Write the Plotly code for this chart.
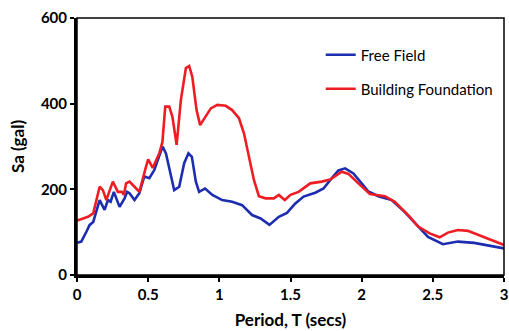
import plotly.graph_objects as go

# Free Field
t_ff = [0, 0.03, 0.066, 0.089, 0.114, 0.136, 0.159, 0.194, 0.217, 0.236, 0.259, 0.299, 0.334, 0.352,
        0.369, 0.404, 0.438, 0.473, 0.508, 0.543, 0.601, 0.625, 0.66, 0.683, 0.718, 0.753, 0.783, 0.807,
        0.835, 0.858, 0.9, 0.951, 1.02, 1.09, 1.16, 1.23, 1.29, 1.352, 1.418, 1.475, 1.534, 1.592, 1.674,
        1.732, 1.79, 1.837, 1.884, 1.942, 2.0, 2.047, 2.117, 2.21, 2.30, 2.397, 2.466, 2.571, 2.676,
        2.79, 2.91, 3.0]
sa_ff = [75, 78, 101, 117, 124, 152, 175, 152, 175, 171, 194, 159, 179, 194,
         191, 175, 191, 230, 226, 245, 300, 284, 230, 198, 206, 261, 284, 276,
         218, 194, 202, 187, 175, 171, 163, 140, 132, 117, 136, 145, 167, 183, 192,
         202, 226, 244, 249, 237, 214, 195, 184, 175, 148, 113, 89, 72, 78,
         75, 68, 62]

# Building Foundation
t_bf = [0, 0.077, 0.114, 0.159, 0.182, 0.206, 0.252, 0.287, 0.315, 0.329, 0.345, 0.369, 0.404, 0.438,
        0.485, 0.5, 0.532, 0.578, 0.60, 0.62, 0.648, 0.67, 0.70, 0.73, 0.765, 0.788, 0.81, 0.84, 0.865,
        0.893, 0.94, 0.986, 1.045, 1.09, 1.138, 1.173, 1.208, 1.243, 1.278, 1.325, 1.383, 1.418, 1.46,
        1.5, 1.557, 1.639, 1.72, 1.779, 1.86, 1.907, 1.977, 2.058, 2.163, 2.233, 2.327, 2.397, 2.478,
        2.548, 2.606, 2.676, 2.746, 2.84, 2.93, 3.0]
sa_bf = [127, 136, 144, 206, 198, 175, 218, 194, 194, 187, 214, 218, 206, 194,
         253, 270, 250, 284, 310, 393, 393, 370, 304, 409, 483, 488, 463, 385, 350,
         365, 389, 397, 395, 385, 366, 331, 280, 222, 184, 179, 179, 187, 175,
         187, 194, 214, 218, 223, 241, 236, 214, 189, 184, 171, 140, 113, 97,
         88, 99, 105, 103, 91, 78, 70]

x_ticks = [0, 0.5, 1, 1.5, 2, 2.5, 3]
x_ticklabels = ["0", "0.5", "1", "1.5", "2", "2.5", "3"]
y_ticks = [0, 200, 400, 600]

FONT = "Lato"

fig = go.Figure()
fig.add_trace(go.Scatter(x=t_ff, y=sa_ff, mode="lines", name="Free Field",
                         line=dict(color="#1c2db0", width=2.6), legend="legend"))
fig.add_trace(go.Scatter(x=t_bf, y=sa_bf, mode="lines", name="Building Foundation",
                         line=dict(color="#ee1d23", width=2.6), legend="legend2"))

L, R, T, B = 77, 1, 18, 56
W, H = 509, 331
pw = W - L - R
ph = H - T - B

def px2x(px):
    return (px - L) / pw

def py2y(py):
    return (H - B - py) / ph

legend_font = dict(family=FONT, size=15, color="black")
fig.update_layout(
    width=W, height=H,
    margin=dict(l=L, r=R, t=T, b=B),
    paper_bgcolor="white", plot_bgcolor="white",
    font=dict(family=FONT, color="black"),
    showlegend=True,
    legend=dict(x=px2x(323), y=py2y(55), xanchor="left", yanchor="middle",
                bgcolor="rgba(0,0,0,0)", font=legend_font),
    legend2=dict(x=px2x(323), y=py2y(89), xanchor="left", yanchor="middle",
                 bgcolor="rgba(0,0,0,0)", font=legend_font),
    xaxis=dict(range=[0, 3], tickvals=x_ticks, ticktext=x_ticklabels,
               showgrid=False, zeroline=False, ticklabeloverflow="allow",
               showline=True, linewidth=3, linecolor="black",
               ticks="outside", ticklen=4, tickwidth=2, tickcolor="black",
               tickfont=dict(family=FONT, size=15, color="black", weight="bold"),
               title=dict(text="Period, T (secs)", standoff=13,
                          font=dict(family=FONT, size=17, color="black", weight="bold"))),
    yaxis=dict(range=[0, 600], tickvals=y_ticks,
               showgrid=False, zeroline=False,
               showline=True, linewidth=3, linecolor="black",
               ticks="outside", ticklen=4, tickwidth=2, tickcolor="black",
               tickfont=dict(family=FONT, size=15, color="black", weight="bold"),
               title=dict(text="Sa (gal)", standoff=12,
                          font=dict(family=FONT, size=17, color="black", weight="bold"))),
    shapes=[dict(type="rect", xref="paper", yref="paper", x0=0, x1=1, y0=0, y1=1,
                 line=dict(color="black", width=1.5), layer="above")],
)

fig.write_html("out.html")
